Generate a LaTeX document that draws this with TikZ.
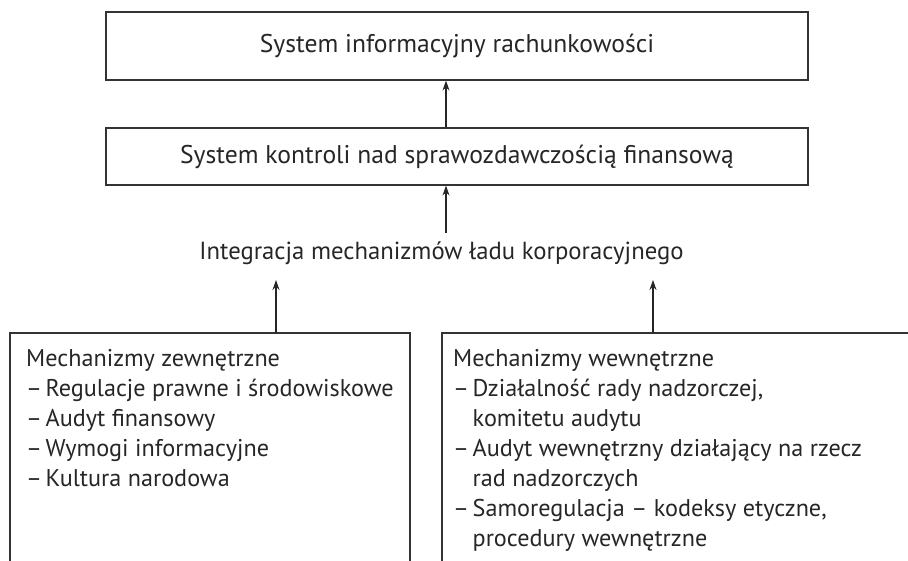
\documentclass[tikz,border=0pt]{standalone}
\usepackage{fontspec}
\setmainfont{PT Sans}
\usetikzlibrary{arrows.meta}
% list dash with a tight space after it, and the matching indent
\newcommand\listdash{–\hspace{3.5pt}}
\newcommand\listindent{\hphantom{\listdash}}
\begin{document}
\begin{tikzpicture}[x=1pt,y=-1pt,
  every node/.style={text=black!85},
  boxfont/.style={font=\fontsize{25.6}{30}\selectfont},
  midfont/.style={font=\fontsize{24.7}{30}\selectfont},
  listfont/.style={font=\fontsize{24.2}{30}\selectfont},
  frame/.style={boxfont, draw=black!80, line width=1.2pt, minimum width=702pt, inner sep=0pt},
  arr/.style={draw=black!85, line width=1.2pt, -{Stealth[length=10pt,width=7pt]}},
  edge/.style={draw=black!80, line width=1.2pt},
  listtext/.style={listfont, anchor=north west, align=left, inner sep=0pt}]
\useasboundingbox (0,0) rectangle (908,561);

% upper boxes
\node[frame, minimum height=68pt] (acc) at (457,46) {System informacyjny rachunkowości};
\node[frame, minimum height=57pt] (ctl) at (457,156.5) {System kontroli nad sprawozdawczością finansową};
\node[midfont, inner sep=0pt] (integ) at (441.5,253) {Integracja mechanizmów ładu korporacyjnego};

% open frames of the two mechanism groups
\draw[edge] (10,575) -- (10,333) -- (410,333) -- (410,575);
\draw[edge] (442,575) -- (442,333) -- (925,333);

\node[listtext] (ext) at (26,349) {Mechanizmy zewnętrzne\\
\listdash Regulacje prawne i środowiskowe\\
\listdash Audyt finansowy\\
\listdash Wymogi informacyjne\\
\listdash Kultura narodowa};
\node[listtext] (int) at (453,349) {Mechanizmy wewnętrzne\\
\listdash Działalność rady nadzorczej,\\
\listindent komitetu audytu\\
\listdash Audyt wewnętrzny działający na rzecz\\
\listindent rad nadzorczych\\
\listdash Samoregulacja – kodeksy etyczne,\\
\listindent procedury wewnętrzne};

% connector end points
\coordinate (ax) at (446,233);
\coordinate (lb) at (276,333);
\coordinate (lt) at (276,280);
\coordinate (rb) at (653,333);
\coordinate (rt) at (653,280);

\draw[arr] (ctl.north -| ax) -- (acc.south -| ax);
\draw[arr] (ax) -- (ctl.south -| ax);
\draw[arr] (lb) -- (lt);
\draw[arr] (rb) -- (rt);
\end{tikzpicture}
\end{document}
